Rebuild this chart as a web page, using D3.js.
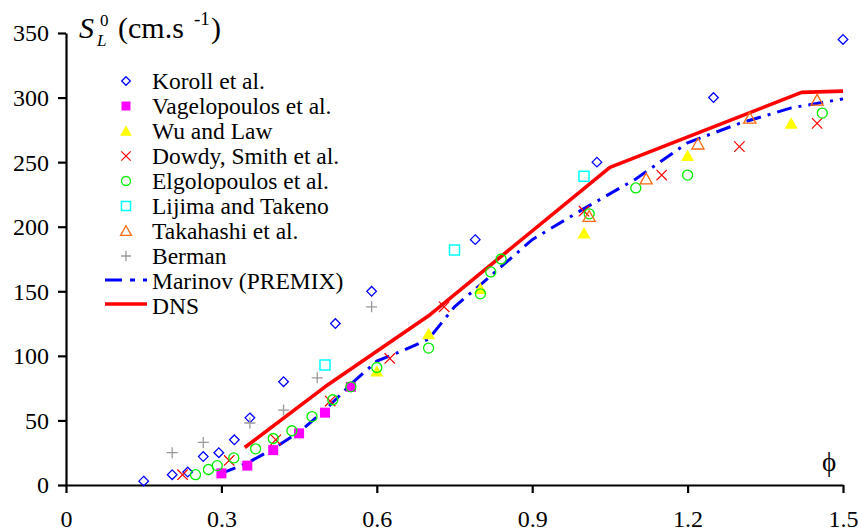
<!DOCTYPE html>
<html>
<head>
<meta charset="utf-8">
<script src="https://cdn.jsdelivr.net/npm/d3@7"></script>
<style>
html,body{margin:0;padding:0;background:#fff;}
svg{display:block;}
svg text{font-family:"Liberation Serif",Tinos,"Times New Roman",Times,serif !important;}
</style>
</head>
<body>
<svg id="chart" width="858" height="531"></svg>
<script>
// ---- data ----
const xTicks = [0, 0.3, 0.6, 0.9, 1.2, 1.5];
const xTickLabels = ["0", "0.3", "0.6", "0.9", "1.2", "1.5"];
const yTicks = [0, 50, 100, 150, 200, 250, 300, 350];

const koroll = [[0.15,3],[0.205,8],[0.235,10],[0.265,22],[0.295,25],[0.325,35],[0.355,52],[0.42,80],[0.52,125],[0.59,150],[0.79,190],[1.025,250],[1.25,300],[1.5,345]];
const vagelopoulos = [[0.3,9],[0.35,15],[0.4,27],[0.45,40],[0.5,56],[0.55,76]];
const wuLaw = [[0.6,88],[0.7,117],[0.8,152],[1.0,195],[1.2,255],[1.4,280]];
const dowdy = [[0.225,8],[0.315,19],[0.405,35],[0.51,65],[0.625,98],[0.73,138],[1.0,212],[1.15,240],[1.3,262],[1.45,280]];
const elgolopoulos = [[0.25,8],[0.275,12],[0.292,15],[0.324,21],[0.366,28],[0.4,36],[0.436,42],[0.475,53],[0.515,66],[0.55,76],[0.6,91],[0.7,106],[0.8,148],[0.82,165],[0.84,175],[1.01,210],[1.1,230],[1.2,240],[1.46,288]];
const lijima = [[0.5,93],[0.75,182],[1.0,239]];
const takahashi = [[1.01,208],[1.12,237],[1.22,264],[1.32,284],[1.45,298]];
const berman = [[0.205,25],[0.265,33],[0.355,48],[0.42,58],[0.485,83],[0.59,138]];
const marinov = [[0.3,9],[0.35,17],[0.4,28],[0.45,41],[0.5,58],[0.55,78],[0.6,96],[0.65,104],[0.7,113],[0.75,138],[0.8,155],[0.9,190],[1.0,214],[1.1,237],[1.2,265],[1.3,280],[1.4,292],[1.5,299]];
const dns = [[0.345,29],[0.5,76],[0.7,131],[1.05,246],[1.42,304],[1.5,305]];

const legendLabels = ["Koroll et al.","Vagelopoulos et al.","Wu and Law","Dowdy, Smith et al.","Elgolopoulos et al.","Lijima and Takeno","Takahashi et al.","Berman","Marinov (PREMIX)","DNS"];

// ---- setup ----
const FONT = "Liberation Serif";
const svg = d3.select("#chart");
const x = d3.scaleLinear().domain([0, 1.5]).range([66, 843]);
const y = d3.scaleLinear().domain([0, 350]).range([485, 33]);

// marker shapes (half-size h in px)
const shapes = {
  diamond: h => `M0,${-h}L${h},0L0,${h}L${-h},0Z`,
  square: h => `M${-h},${-h}H${h}V${h}H${-h}Z`,
  triangle: h => `M0,${-h}L${h*1.05},${h*0.85}L${-h*1.05},${h*0.85}Z`,
  times: h => `M${-h},${-h}L${h},${h}M${h},${-h}L${-h},${h}`,
  plus: h => `M${-h},0H${h}M0,${-h}V${h}`,
  circle: h => `M${h},0A${h},${h} 0 1,1 ${-h},0A${h},${h} 0 1,1 ${h},0Z`
};

const series = [
  {data: koroll, shape: "diamond", h: 4.8, fill: "none", stroke: "#0000ff", sw: 1.3},
  {data: vagelopoulos, shape: "square", h: 5, fill: "#ff00ff", stroke: "none", sw: 0},
  {data: wuLaw, shape: "triangle", h: 6.2, fill: "#ffff00", stroke: "none", sw: 0},
  {data: dowdy, shape: "times", h: 5.2, fill: "none", stroke: "#ff0000", sw: 1.2},
  {data: elgolopoulos, shape: "circle", h: 5, fill: "none", stroke: "#00ee00", sw: 1.3},
  {data: lijima, shape: "square", h: 5, fill: "none", stroke: "#00ffff", sw: 1.5},
  {data: takahashi, shape: "triangle", h: 5.8, fill: "none", stroke: "#ff6a10", sw: 1.3},
  {data: berman, shape: "plus", h: 5.5, fill: "none", stroke: "#999999", sw: 1.3}
];

// ---- axes ----
const yAxis = d3.axisLeft(y).tickValues(yTicks).tickSize(8).tickSizeOuter(0).tickPadding(9);
const xAxis = d3.axisBottom(x).tickValues(xTicks).tickFormat((d,i) => xTickLabels[i]).tickSize(8).tickSizeOuter(0).tickPadding(17);

const gy = svg.append("g").attr("transform", "translate(66,0)").call(yAxis);
const gx = svg.append("g").attr("transform", "translate(0,485)").call(xAxis);
[gx, gy].forEach(g => {
  g.attr("font-family", FONT).attr("font-size", 24);
  g.select(".domain").attr("stroke", "#000").attr("stroke-width", 2.2);
  g.selectAll(".tick line").attr("stroke", "#000").attr("stroke-width", 2.2);
  g.selectAll(".tick text").attr("fill", "#000").attr("font-size", 24).style("font-family", FONT);
});
gy.selectAll(".tick text").attr("dy", "0.33em");

// ---- lines ----
const line = d3.line().x(d => x(d[0])).y(d => y(d[1]));
svg.append("path").datum(marinov).attr("d", line).attr("fill", "none")
  .attr("stroke", "#0000ff").attr("stroke-width", 3).attr("stroke-dasharray", "15,7,3,7");
svg.append("path").datum(dns).attr("d", line).attr("fill", "none")
  .attr("stroke", "#ff0000").attr("stroke-width", 3.6).attr("stroke-linejoin", "round");

// ---- markers ----
series.forEach(s => {
  svg.append("g").selectAll("path").data(s.data).join("path")
    .attr("transform", d => `translate(${x(d[0])},${y(d[1])})`)
    .attr("d", shapes[s.shape](s.h))
    .attr("fill", s.fill).attr("stroke", s.stroke).attr("stroke-width", s.sw);
});

// ---- legend ----
const lg = svg.append("g");
const rowY = i => 81 + i * 25;
series.forEach((s, i) => {
  lg.append("path").attr("transform", `translate(126,${rowY(i)})`)
    .attr("d", shapes[s.shape](s.h * 0.9))
    .attr("fill", s.fill).attr("stroke", s.stroke).attr("stroke-width", s.sw);
});
lg.append("line").attr("x1", 105).attr("x2", 147).attr("y1", rowY(8) - 1).attr("y2", rowY(8) - 1)
  .attr("stroke", "#0000ff").attr("stroke-width", 3).attr("stroke-dasharray", "17,8,5,8");
lg.append("line").attr("x1", 105).attr("x2", 147).attr("y1", rowY(9) - 2).attr("y2", rowY(9) - 2)
  .attr("stroke", "#ff0000").attr("stroke-width", 3.6);
legendLabels.forEach((t, i) => {
  lg.append("text").attr("x", 152).attr("y", rowY(i) + 8).style("font-family", FONT)
    .attr("font-size", 23.5).attr("fill", "#000").text(t);
});

// ---- titles ----
const title = svg.append("g").attr("fill", "#000");
title.append("text").attr("x", 79).attr("y", 38).attr("font-size", 30).attr("font-style", "italic").text("S");
title.append("text").attr("x", 100).attr("y", 26).attr("font-size", 17).text("0");
title.append("text").attr("x", 97).attr("y", 46).attr("font-size", 17).attr("font-style", "italic").text("L");
title.append("text").attr("x", 118).attr("y", 38).attr("font-size", 30).text("(cm.s");
title.append("text").attr("x", 194).attr("y", 25).attr("font-size", 19).text("-1");
title.append("text").attr("x", 211).attr("y", 38).attr("font-size", 30).text(")");

svg.append("text").attr("x", 829).attr("y", 471).attr("text-anchor", "middle")
  .attr("font-size", 27).attr("fill", "#000").text("ϕ");
</script>
</body>
</html>
